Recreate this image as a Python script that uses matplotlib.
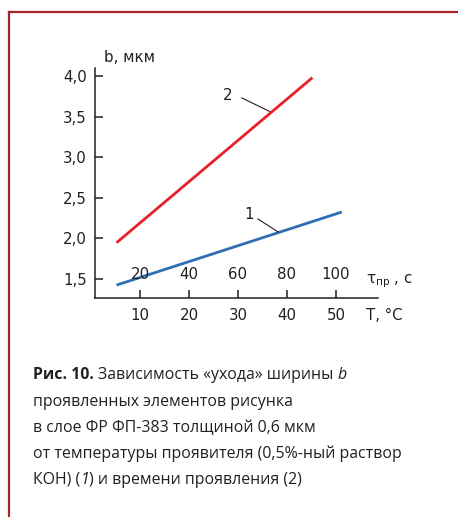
import matplotlib
matplotlib.use('Agg')
import matplotlib.pyplot as plt
from matplotlib.lines import Line2D

# ---------------- data ----------------
temp_T = [5.2, 51.2]          # T, °C  (curve 1)
width_b1 = [1.425, 2.325]     # b, мкм
time_tau = [10.4, 90.4]       # τпр, с (curve 2)
width_b2 = [1.947, 3.98]      # b, мкм

y_ticks = [1.5, 2.0, 2.5, 3.0, 3.5, 4.0]
y_labels = ["1,5", "2,0", "2,5", "3,0", "3,5", "4,0"]
T_ticks = [10, 20, 30, 40, 50]
tau_ticks = [20, 40, 60, 80, 100]

W, H = 458, 517
fig = plt.figure(figsize=(W / 100, H / 100), dpi=100)

def fx(x):
    return x / W

def fy(y):
    return 1 - y / H

AX_FONT = ['DejaVu Sans']
AX_SIZE = 10.8
CAP_FONT = ['Open Sans', 'DejaVu Sans']
TXT = '#231f20'

# frame (left and top edge)
border = '#a3242b'
fig.add_artist(Line2D([fx(9), fx(458)], [fy(12), fy(12)], color=border, lw=1.6))
fig.add_artist(Line2D([fx(9), fx(9)], [fy(12), fy(517)], color=border, lw=1.6))

# axes
ax = fig.add_axes([fx(95), fy(298), fx(378) - fx(95), fy(68) - fy(298)])
ax.set_xlim(0.8, 58.6)
ax.set_ylim(1.266, 4.099)
for s in ['top', 'right']:
    ax.spines[s].set_visible(False)
for s in ['left', 'bottom']:
    ax.spines[s].set_linewidth(1.1)
    ax.spines[s].set_color(TXT)
ax.set_yticks(y_ticks)
ax.set_yticklabels(y_labels, fontfamily=AX_FONT, fontsize=AX_SIZE, color=TXT)
ax.set_xticks(T_ticks)
ax.set_xticklabels([str(t) for t in T_ticks], fontfamily=AX_FONT, fontsize=AX_SIZE, color=TXT)
ax.tick_params(axis='both', direction='in', length=6, width=1.1, color=TXT)
ax.tick_params(axis='y', pad=6)
ax.tick_params(axis='x', pad=7)
ax.patch.set_visible(False)

ax.plot(temp_T, width_b1, color='#2f6db5', lw=2.0, solid_capstyle='butt')

ax2 = ax.twiny()
ax2.set_xlim(2 * 0.8, 2 * 58.6)
for s in ax2.spines.values():
    s.set_visible(False)
ax2.xaxis.set_ticks_position('bottom')
ax2.set_xticks(tau_ticks)
ax2.set_xticklabels([str(t) for t in tau_ticks], fontfamily=AX_FONT, fontsize=AX_SIZE, color=TXT)
ax2.tick_params(axis='x', length=0, pad=-22)
ax2.plot(time_tau, width_b2, color='#e8202a', lw=2.0, solid_capstyle='butt')

# leaders and curve numbers
ax.plot([30.8, 36.7], [3.73, 3.557], color=TXT, lw=0.8)
ax.text(27.8, 3.766, '2', ha='center', va='center', fontsize=AX_SIZE, fontfamily=AX_FONT, color=TXT)
ax.plot([34.1, 38.2], [2.239, 2.079], color=TXT, lw=0.8)
ax.text(32.2, 2.30, '1', ha='center', va='center', fontsize=AX_SIZE, fontfamily=AX_FONT, color=TXT)

# axis titles
fig.text(fx(104), fy(57), 'b, мкм', ha='left', va='center', fontsize=AX_SIZE, fontfamily=AX_FONT, color=TXT)
fig.text(fx(366), fy(316), 'T, °C', ha='left', va='center', fontsize=AX_SIZE, fontfamily=AX_FONT, color=TXT)
fig.text(fx(366), fy(281), r'$\mathrm{τ}_{\mathrm{пр}}$ , с', ha='left', va='center', fontsize=AX_SIZE,
         fontfamily=AX_FONT, color=TXT)

# caption
renderer = fig.canvas.get_renderer()

def rich_line(x, y, parts, size=11.4):
    for s, kw, gap in parts:
        t = fig.text(fx(x), fy(y), s, ha='left', va='baseline', fontsize=size,
                     fontfamily=CAP_FONT, color=TXT, **kw)
        bb = t.get_window_extent(renderer)
        x += bb.width + gap

caption = [
    [("Рис. 10.", dict(fontweight='bold'), 4), ("Зависимость «ухода» ширины", {}, 4), ("b", dict(style='italic'), 0)],
    [("проявленных элементов рисунка", {}, 0)],
    [("в слое ФР ФП-383 толщиной 0,6 мкм", {}, 0)],
    [("от температуры проявителя (0,5%-ный раствор", {}, 0)],
    [("КОН) (", {}, 0), ("1", dict(style='italic'), 0), (") и времени проявления (2)", {}, 0)],
]
baselines = [379, 405.5, 432, 458, 484]
for parts, yb in zip(caption, baselines):
    rich_line(33, yb, parts)

fig.savefig('out.png', dpi=100)
